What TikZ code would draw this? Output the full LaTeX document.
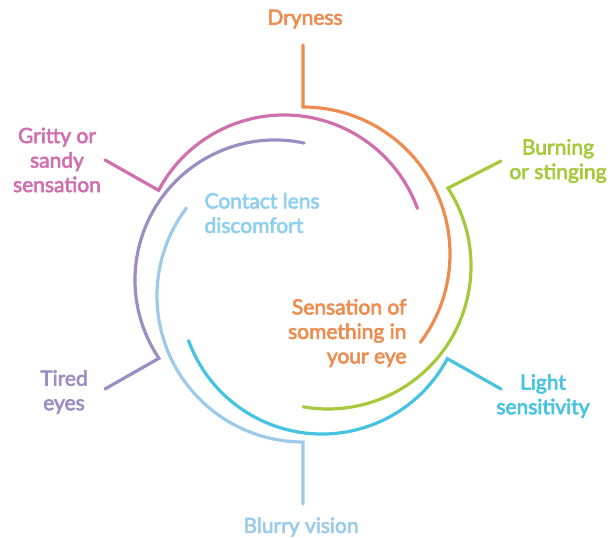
\documentclass[tikz,border=0pt]{standalone}
\usepackage{fontspec}
\setmainfont{Lato}
\newfontfamily\lblfont{Lato}[FakeBold=3]
\usetikzlibrary{calc}
\definecolor{dryorange}{HTML}{EE8C4F}
\definecolor{burngreen}{HTML}{A6C93C}
\definecolor{lightcyan}{HTML}{45C3E1}
\definecolor{blurblue}{HTML}{9DCAE8}
\definecolor{lensblue}{HTML}{8ECFEF}
\definecolor{tiredpurple}{HTML}{9C8DC2}
\definecolor{grittypink}{HTML}{CF6FAE}

\begin{document}
\begin{tikzpicture}[x=1pt,y=1pt,
  ring/.style={line width=3.2pt, line cap=round},
  lbl/.style={font=\lblfont\fontsize{21}{24.5}\selectfont, align=center}]
\useasboundingbox (0,0) rectangle (611,538);
% centres of the rings
\coordinate (c-dry) at (303,284);
\coordinate (c-grit) at (284,281);
\coordinate (c-tired) at (275,258);
\coordinate (c-blur) at (303,242);
\coordinate (c-light) at (322,246);
\coordinate (c-burn) at (328,272);
% free ends of the leaders
\coordinate (dry-a) at (303,493);
\coordinate (grit-a) at (105,378);
\coordinate (tired-a) at (105,149);
\coordinate (blur-a) at (303,34);
\coordinate (light-a) at (501,149);
\coordinate (burn-a) at (501,377);
% rings
\draw[ring, grittypink] (grit-a) -- ($(c-grit)+(152:142)$) arc[start angle=152, end angle=20, radius=142];
\draw[ring, tiredpurple] ($(c-tired)+(78:140)$) arc[start angle=78, end angle=214, radius=140] -- (tired-a);
\draw[ring, blurblue] ($(c-blur)+(143:146)$) arc[start angle=143, end angle=270, radius=146] -- (blur-a);
\draw[ring, lightcyan] ($(c-light)+(200:142)$) arc[start angle=200, end angle=332, radius=142] -- (light-a);
\draw[ring, burngreen] (burn-a) -- ($(c-burn)+(33:143)$) arc[start angle=33, end angle=-100, radius=143];
\draw[ring, dryorange] (dry-a) -- ($(c-dry)+(90:147)$) arc[start angle=90, end angle=-37, radius=147];
% labels
\node[lbl, dryorange] (dry) at (305,519) {Dryness};
\node[lbl, grittypink] (grit) at (57,378) {Gritty or\\sandy\\sensation};
\node[lbl, tiredpurple] (tired) at (64,146) {Tired\\eyes};
\node[lbl, blurblue] (blur) at (301,11) {Blurry vision};
\node[lbl, lightcyan] (light) at (543,142) {Light\\sensitivity};
\node[lbl, burngreen] (burn) at (558,377) {Burning\\or stinging};
\node[lbl, lensblue, align=left, anchor=west] (lens) at (201,325) {Contact lens\\discomfort};
\node[lbl, dryorange, align=right, anchor=east] (feel) at (410,205) {Sensation of\\something in\\your eye};
\end{tikzpicture}
\end{document}
